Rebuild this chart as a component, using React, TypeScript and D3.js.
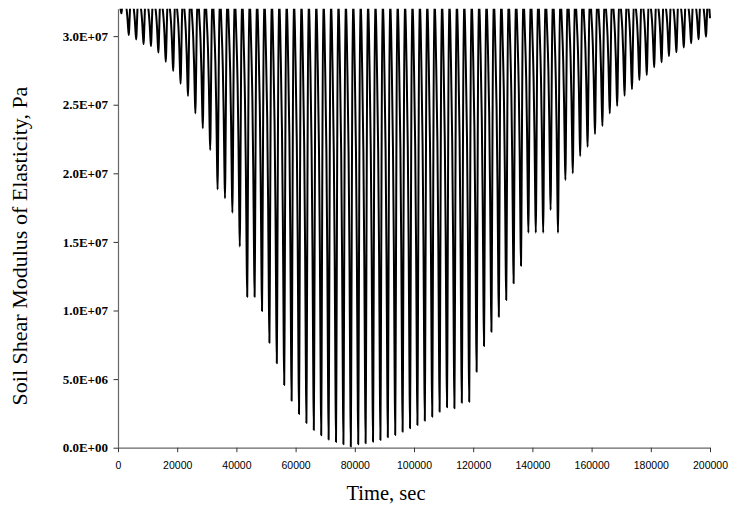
import React, { useEffect, useRef } from "react";
import * as d3 from "d3";

// x axis ticks (sec) and y axis ticks (Pa)
const xTicks = [0, 20000, 40000, 60000, 80000, 100000, 120000, 140000, 160000, 180000, 200000];
const yTicks = [0, 5e6, 1e7, 1.5e7, 2e7, 2.5e7, 3e7];

// loading cycles
const period = 2500;
const firstTrough = 1150;
const peakValue = 3.3e7;
const startValue = 3.3e7;
const endTime = 200000;
const endValue = 3.13e7;

// minimum modulus reached in each cycle, in MPa
const troughsMPa = [
  31.66, 30.08, 29.75, 29.42, 29.28, 28.8, 28.13, 27.46, 26.53, 25.63,
  24.37, 23.28, 21.7, 18.83, 18.18, 17.13, 14.66, 11.01, 11.01, 9.96,
  7.65, 6.15, 4.57, 3.43, 2.46, 1.8, 1.29, 0.9, 0.59, 0.42,
  0.26, 0.07, 0.25, 0.32, 0.44, 0.56, 0.76, 0.93, 1.17, 1.41,
  1.65, 1.97, 2.26, 2.62, 2.94, 2.87, 3.28, 3.35, 5.54, 7.41,
  8.45, 9.55, 10.77, 11.98, 13.27, 15.67, 15.67, 15.67, 17.33, 15.67,
  19.51, 20.0, 21.26, 21.94, 22.86, 23.45, 24.37, 24.91, 25.66, 26.12,
  26.8, 27.16, 27.73, 28.09, 28.55, 28.82, 29.18, 29.48, 29.77, 29.96,
];

// shape of one cycle around its trough: time offset (sec) and share of the drop
const shapeOffsets = [-1700, -1200, -750, -450, -200, 0, 150, 350, 700];
const shapeDepth = [0, 0.15, 0.35, 0.58, 0.85, 1, 0.82, 0.45, 0];

const W = 740;
const H = 506;
const left = 118;
const right = 710;
const top = 8.7;
const bottom = 447.7;

function fmtSci(v: number) {
  const [m, e] = v.toExponential(1).split("e");
  const sign = e[0] === "-" ? "-" : "+";
  const digits = e.replace(/[+-]/, "").padStart(2, "0");
  return `${m}E${sign}${digits}`;
}

export default function App() {
  const ref = useRef<SVGSVGElement>(null);

  useEffect(() => {
    const svg = d3.select(ref.current);
    svg.selectAll("*").remove();

    const x = d3.scaleLinear().domain([0, 200000]).range([left, right]);
    const y = d3.scaleLinear().domain([0, 3.2e7]).range([bottom, top]);

    const pts: [number, number][] = [[0, startValue]];
    troughsMPa.forEach((m, k) => {
      const t0 = firstTrough + k * period;
      const vMin = m * 1e6;
      shapeOffsets.forEach((dt, i) => {
        const t = t0 + dt;
        if (t < 0) return;
        pts.push([t, peakValue - (peakValue - vMin) * shapeDepth[i]]);
      });
    });
    pts.push([endTime - 700, peakValue]);
    pts.push([endTime, endValue]);

    svg
      .append("defs")
      .append("clipPath")
      .attr("id", "plot")
      .append("rect")
      .attr("x", left)
      .attr("y", top)
      .attr("width", right - left + 2)
      .attr("height", bottom - top);

    const line = d3
      .line<[number, number]>()
      .x(d => x(d[0]))
      .y(d => y(d[1]))
      .curve(d3.curveMonotoneX);

    svg
      .append("path")
      .datum(pts)
      .attr("clip-path", "url(#plot)")
      .attr("fill", "none")
      .attr("stroke", "#000")
      .attr("stroke-width", 2)
      .attr("stroke-linejoin", "round")
      .attr("d", line);

    const gx = svg
      .append("g")
      .attr("transform", `translate(0,${bottom})`)
      .call(
        d3
          .axisBottom(x)
          .tickValues(xTicks)
          .tickSize(4.5)
          .tickSizeOuter(0)
          .tickPadding(9)
          .tickFormat(d => String(d))
      );
    gx.selectAll("text")
      .style("font-family", "'Liberation Sans', Arial, sans-serif")
      .style("font-size", "10.5px")
      .attr("fill", "#000");

    const gy = svg
      .append("g")
      .attr("transform", `translate(${left},0)`)
      .call(
        d3
          .axisLeft(y)
          .tickValues(yTicks)
          .tickSize(4.5)
          .tickSizeOuter(0)
          .tickPadding(5.5)
          .tickFormat(d => fmtSci(+d))
      );
    gy.selectAll("text")
      .style("font-family", "'Liberation Serif', 'Times New Roman', serif")
      .style("font-size", "13px")
      .style("font-weight", "bold")
      .attr("fill", "#000");

    [gx, gy].forEach(g => {
      g.select(".domain").attr("stroke", "#666").attr("stroke-width", 1.2);
      g.selectAll(".tick line").attr("stroke", "#333").attr("stroke-width", 1);
    });

    svg
      .append("text")
      .attr("x", 386)
      .attr("y", 500)
      .attr("text-anchor", "middle")
      .style("font-family", "'Liberation Serif', 'Times New Roman', serif")
      .style("font-size", "20.5px")
      .text("Time, sec");

    svg
      .append("text")
      .attr("transform", "translate(26.5,246) rotate(-90)")
      .attr("text-anchor", "middle")
      .style("font-family", "'Liberation Serif', 'Times New Roman', serif")
      .style("font-size", "22px")
      .text("Soil Shear Modulus of Elasticity, Pa");
  }, []);

  return (
    <svg
      ref={ref}
      width={W}
      height={H}
      style={{ position: "absolute", left: 0, top: 0, background: "#fff" }}
    />
  );
}
